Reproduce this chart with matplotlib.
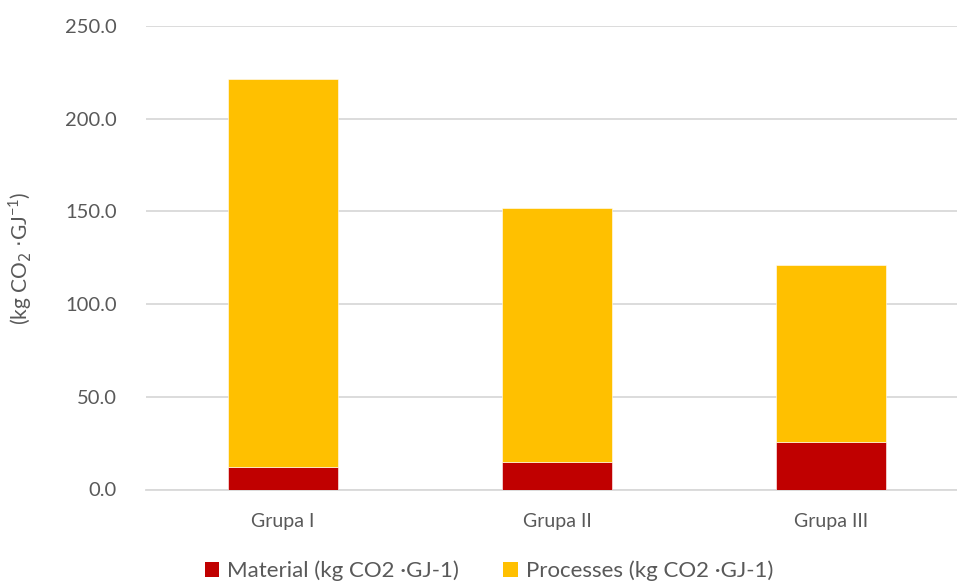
import matplotlib.pyplot as plt
from matplotlib.patches import Patch

# Emission factors per group
categories = ["Grupa I", "Grupa II", "Grupa III"]
material = [12.3, 14.8, 25.5]
processes = [209.0, 137.0, 95.4]
y_ticks = [0, 50, 100, 150, 200, 250]

RED = "#C00000"
YELLOW = "#FFC000"
TEXT = "#595959"
GRID = "#D9D9D9"

plt.rcParams["font.family"] = ["Lato", "DejaVu Sans"]

fig = plt.figure(figsize=(9.57, 5.82), dpi=100)
ax = fig.add_axes([146 / 957, (582 - 489.5) / 582, 822 / 957, 463.5 / 582])

x = list(range(len(categories)))
ax.bar(x, material, width=0.40, color=RED, edgecolor="white", linewidth=0.4, zorder=3)
ax.bar(x, processes, width=0.40, bottom=material, color=YELLOW,
       edgecolor="white", linewidth=0.4, zorder=3)

ax.set_xlim(-0.5, 2.5)
ax.set_ylim(0, 250)
ax.set_yticks(y_ticks)
ax.set_yticklabels([f"{v:.1f}" for v in y_ticks], color=TEXT, fontsize=14.5)
ax.set_xticks(x)
ax.set_xticklabels(categories, color=TEXT, fontsize=14)
ax.tick_params(axis="both", length=0)
ax.tick_params(axis="y", pad=21)
ax.tick_params(axis="x", pad=17)

ax.yaxis.grid(True, color=GRID, linewidth=1.3, zorder=0)
for side in ["top", "right", "left"]:
    ax.spines[side].set_visible(False)
ax.spines["bottom"].set_color(GRID)
ax.spines["bottom"].set_linewidth(1.3)

fig.text(20 / 957, 1 - 258 / 582, r"(kg CO$_2$ $\cdot$GJ$^{\mathregular{-1}}$)",
         rotation=90, ha="center", va="center", color=TEXT, fontsize=15)

handles = [Patch(facecolor=RED, label="Material (kg CO2 ·GJ-1)"),
           Patch(facecolor=YELLOW, label="Processes (kg CO2 ·GJ-1)")]
fig.legend(handles=handles, loc="center", bbox_to_anchor=(489 / 957, 1 - 571 / 582),
           ncol=2, frameon=False, fontsize=16, labelcolor=TEXT,
           handlelength=0.65, handleheight=0.65, handletextpad=0.35, columnspacing=2.0)

fig.savefig("out.png", dpi=100)
